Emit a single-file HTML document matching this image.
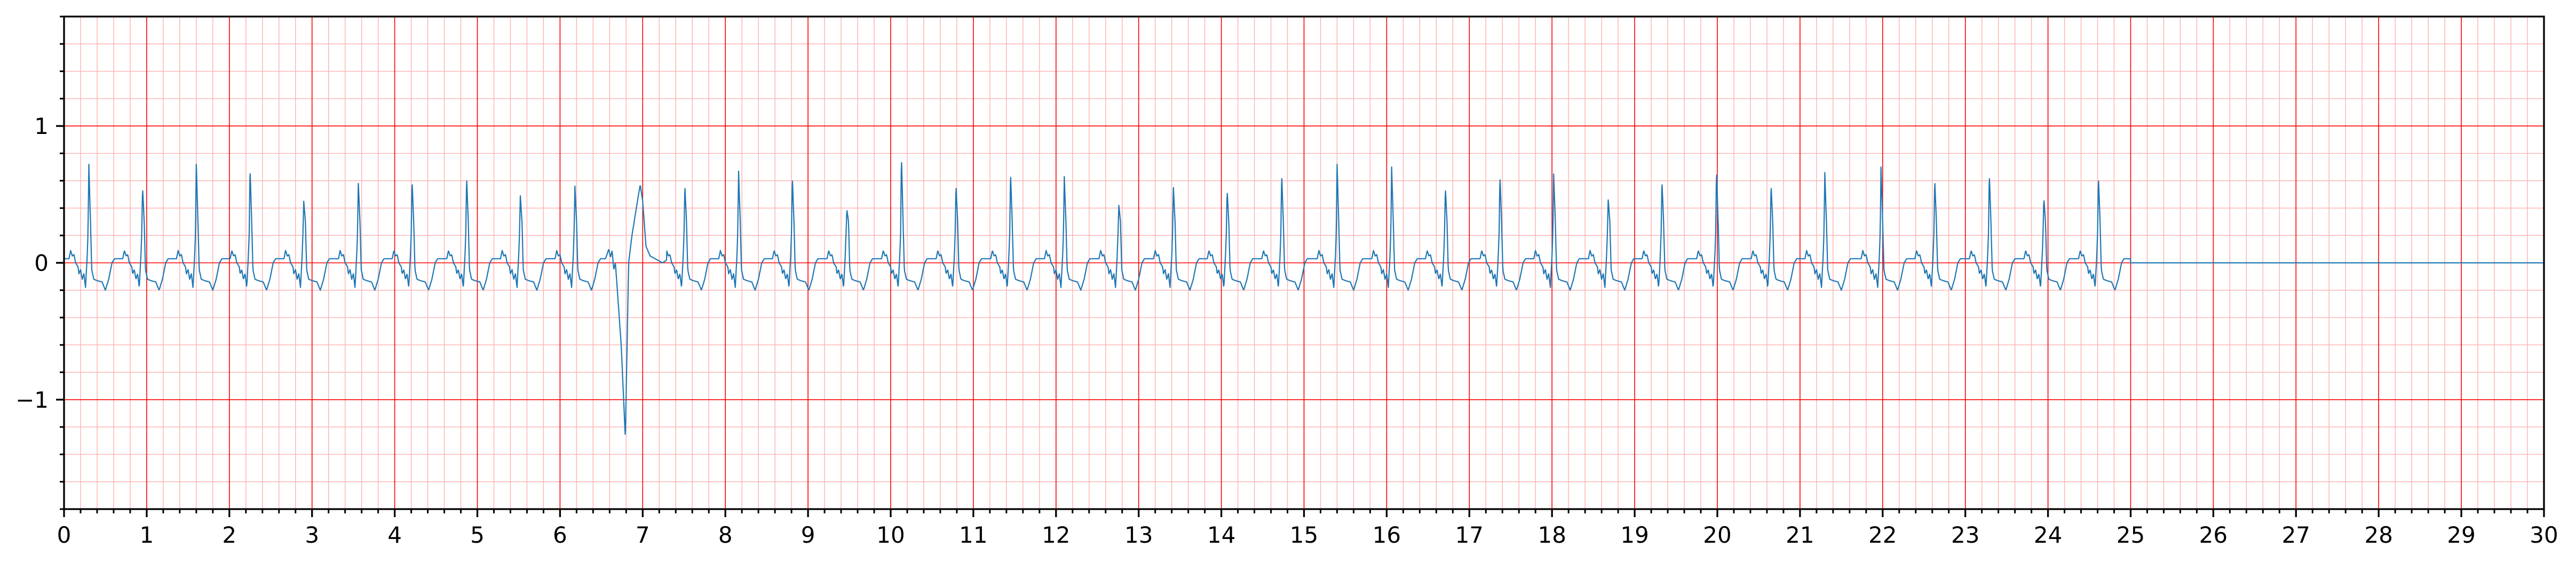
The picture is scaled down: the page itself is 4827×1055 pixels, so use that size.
<!DOCTYPE html>
<html><head><meta charset="utf-8">
<style>
html,body{margin:0;padding:0;background:#fff;}
svg{display:block;font-family:"DejaVu Sans","Liberation Sans",sans-serif;}
</style></head>
<body>
<svg id="chart" width="4827" height="1055" viewBox="0 0 4827 1055" xmlns="http://www.w3.org/2000/svg">
<g id="grid-minor"></g>
<g id="grid-major"></g>
<g id="series"></g>
<g id="axes"></g>
</svg>
<script>
// ---- data ----
const beatTimes = [0.30,0.95,1.60,2.25,2.90,3.56,4.21,4.87,5.52,6.18,7.51,8.16,8.81,9.47,10.13,10.79,11.45,12.10,12.76,13.42,14.07,14.73,15.40,16.06,16.71,17.37,18.02,18.68,19.33,19.99,20.65,21.30,21.98,22.63,23.29,23.95,24.61];
const beatAmps  = [0.72,0.55,0.72,0.69,0.45,0.58,0.60,0.63,0.49,0.56,0.57,0.67,0.63,0.39,0.78,0.57,0.66,0.63,0.42,0.55,0.53,0.65,0.72,0.70,0.55,0.64,0.65,0.46,0.60,0.68,0.57,0.66,0.70,0.61,0.65,0.47,0.63];
const pvcTime = 6.79;
const pvcDepth = -1.28;
const pvcPeak = 0.57;
const signalEnd = 25.0;
const xTicks = [0,1,2,3,4,5,6,7,8,9,10,11,12,13,14,15,16,17,18,19,20,21,22,23,24,25,26,27,28,29,30];
const yTicks = [-1,0,1];
const yTickLabels = ["\u22121","0","1"];

// ---- scales ----
const L=120,R=4767,T=31,B=954;
const xMin=0,xMax=30,yMin=-1.8,yMax=1.8;
const sx=v=>L+(v-xMin)/(xMax-xMin)*(R-L);
const sy=v=>B-(v-yMin)/(yMax-yMin)*(B-T);
const NS="http://www.w3.org/2000/svg";
function mk(tag,attrs,parent){const e=document.createElementNS(NS,tag);for(const k in attrs)e.setAttribute(k,attrs[k]);parent.appendChild(e);return e;}

// grid
const gMin=document.getElementById('grid-minor'), gMaj=document.getElementById('grid-major');
for(let i=0;i<=150;i++){const v=i*0.2;if(i%5===0)continue;const x=sx(v);
 const l=mk('line',{x1:x,x2:x,y1:T,y2:B,stroke:'#ffb0b0','stroke-width':1.4},gMin);
 
 }
for(let i=-9;i<=9;i++){if(i%5===0)continue;const y=sy(i*0.2);
 const l=mk('line',{x1:L,x2:R,y1:y,y2:y,stroke:'#ffb0b0','stroke-width':1.4},gMin);
 
 }
xTicks.forEach(v=>{const x=sx(v);
 const l=mk('line',{x1:x,x2:x,y1:T,y2:B,stroke:'#ff0000','stroke-width':1.6},gMaj);
 
 });
yTicks.forEach(v=>{const y=sy(v);
 const l=mk('line',{x1:L,x2:R,y1:y,y2:y,stroke:'#ff0000','stroke-width':1.6},gMaj);
 
 });

// signal
const normalTpl=[[-0.33,0.03],[-0.24,0.03],[-0.22,0.09],[-0.20,0.05],[-0.18,0.06],[-0.16,0.0],[-0.13,-0.03],[-0.12,-0.08],[-0.10,-0.05],[-0.08,-0.12],[-0.06,-0.08],[-0.04,-0.18],[-0.02,0.05],[-0.01,0.22],[0,1],[0.02,0.3],[0.035,-0.05],[0.06,-0.12],[0.10,-0.13],[0.16,-0.14],[0.20,-0.2],[0.24,-0.12],[0.28,0.0],[0.31,0.03]];
const pvcTpl=[[-0.24,0.03],[-0.20,0.10],[-0.18,0.04],[-0.16,0.09],[-0.14,-0.05],[-0.12,0.0],[-0.05,-0.6],[0,1],[0.04,0.0],[0.08,0.2],[0.12,0.35],[0.16,0.5],[0.18,2],[0.21,0.45],[0.25,0.12],[0.30,0.05],[0.45,0.0],[0.5,0.02]];
function interp(tpl,dt,peakIdxVal){for(let i=0;i<tpl.length-1;i++){const a=tpl[i],b=tpl[i+1];if(dt>=a[0]&&dt<=b[0]){const f=(dt-a[0])/(b[0]-a[0]||1);return peakIdxVal(a,i)+(peakIdxVal(b,i+1)-peakIdxVal(a,i))*f;}}return 0.03;}
function value(t){
 if(t>=signalEnd)return 0;
 const dp=t-pvcTime;
 if(dp>=-0.24&&dp<=0.5){return interp(pvcTpl,dp,(p)=>p[1]===1&&p[0]===0?pvcDepth:(p[1]===2?pvcPeak:p[1]));}
 for(let k=0;k<beatTimes.length;k++){const d=t-beatTimes[k];
  if(d>=-0.33&&d<=0.31){const A=beatAmps[k];return interp(normalTpl,d,(p)=>p[0]===0?A:p[1]);}}
 return 0.03;
}
let pts=[];
for(let i=0;i<=6250;i++){const t=i/250;pts.push(sx(t).toFixed(1)+','+sy(value(t)).toFixed(1));}
pts.push(sx(signalEnd).toFixed(1)+','+sy(0).toFixed(1));
pts.push(sx(xMax).toFixed(1)+','+sy(0).toFixed(1));
const sg=document.getElementById('series');
const pl=mk('polyline',{points:pts.join(' '),fill:'none',stroke:'#1f77b4','stroke-width':2.2,'stroke-linejoin':'round'},sg);



// axes
const ax=document.getElementById('axes');
const fr=mk('rect',{x:L,y:T,width:R-L,height:B-T,fill:'none',stroke:'#000','stroke-width':3.3},ax);


for(let i=0;i<=150;i++){if(i%5===0)continue;const x=sx(i*0.2);
 const t=mk('line',{x1:x,x2:x,y1:B,y2:B+8,stroke:'#000','stroke-width':3},ax);
 
 }
for(let i=-9;i<=9;i++){if(i%5===0)continue;const y=sy(i*0.2);
 const t=mk('line',{x1:L-8,x2:L,y1:y,y2:y,stroke:'#000','stroke-width':3},ax);
 
 }
xTicks.forEach(v=>{const x=sx(v);
 const t=mk('line',{x1:x,x2:x,y1:B,y2:B+15,stroke:'#000','stroke-width':3.3},ax);
 
 
 const tx=mk('text',{x:x,y:1017,'text-anchor':'middle','font-size':42,fill:'#000'},ax);
 tx.textContent=String(v);
 
 });
yTicks.forEach((v,i)=>{const y=sy(v);
 const t=mk('line',{x1:L-15,x2:L,y1:y,y2:y,stroke:'#000','stroke-width':3.3},ax);
 
 
 const tx=mk('text',{x:L-29,y:y+15,'text-anchor':'end','font-size':42,fill:'#000'},ax);
 tx.textContent=yTickLabels[i];
 
 });
</script>
</body></html>
